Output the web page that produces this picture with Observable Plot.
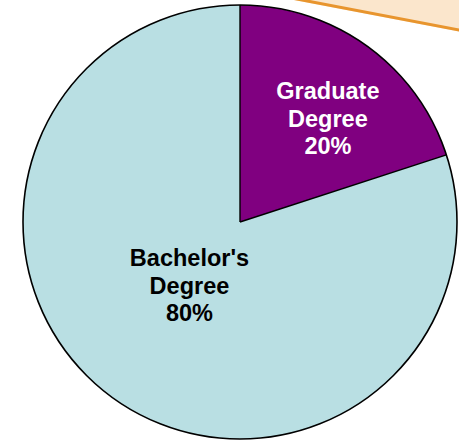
<!DOCTYPE html>
<html>
<head>
<meta charset="utf-8">
<script src="https://cdn.jsdelivr.net/npm/d3@7"></script>
<script src="https://cdn.jsdelivr.net/npm/@observablehq/plot@0.6"></script>
<style>
  html, body { margin: 0; padding: 0; background: #fff; }
  #wrap { position: relative; width: 459px; height: 442px; overflow: hidden; }
  #note { position: absolute; left: 294px; top: -83px; width: 260px; height: 80px;
          background: #fbe6cc; border-bottom: 3px solid #e8952e;
          transform: rotate(10.8deg); transform-origin: 0 100%; }
  #chart { position: absolute; left: 0; top: 0; }
</style>
</head>
<body>
<div id="wrap"><div id="note"></div><div id="chart"></div></div>
<script>
const categories = ["Graduate Degree", "Bachelor's Degree"];
const labelLines = [["Graduate", "Degree", "20%"], ["Bachelor's", "Degree", "80%"]];
const shares = [20, 80];
const colors = ["#800080", "#b9dfe3"];
const textColors = ["#ffffff", "#000000"];
const labelRadius = [0.628, 0.371];
const labelAngleShift = [3.9, 3.35]; // degrees

const pie = d3.pie().sort(null).value(d => d.value);
const arcs = pie(categories.map((c, i) => ({category: c, value: shares[i], i})));

// label positions in data units (unit circle), along slice mid-angle
const labels = arcs.map((a, i) => {
  const mid = (a.startAngle + a.endAngle) / 2 + labelAngleShift[i] * Math.PI / 180;
  return {
    x: labelRadius[i] * Math.sin(mid),
    y: labelRadius[i] * Math.cos(mid),
    text: labelLines[i].join("\n"),
    fill: textColors[i]
  };
});

function pieMark(index, scales) {
  const cx = scales.x(0), cy = scales.y(0);
  const r = scales.x(1) - scales.x(0);
  const g = d3.create("svg:g").attr("transform", `translate(${cx},${cy})`);
  const arcGen = d3.arc().innerRadius(0).outerRadius(r);
  g.selectAll("path").data(arcs).join("path")
    .attr("d", arcGen)
    .attr("fill", d => colors[d.data.i])
    .attr("stroke", "none");
  g.append("circle").attr("r", r).attr("fill", "none").attr("stroke", "#000").attr("stroke-width", 1.6);
  g.selectAll("line.sep").data(arcs).join("line")
    .attr("x1", 0).attr("y1", 0)
    .attr("x2", d => r * Math.sin(d.startAngle))
    .attr("y2", d => -r * Math.cos(d.startAngle))
    .attr("stroke", "#000").attr("stroke-width", 1.4);
  return g.node();
}

const chart = Plot.plot({
  width: 459,
  height: 442,
  margin: 0,
  x: {domain: [-1, 1], range: [23, 457], axis: null},
  y: {domain: [-1, 1], range: [439, 5], axis: null},
  style: {background: "transparent", overflow: "visible"},
  marks: [
    pieMark,
    Plot.text(labels, {
      x: "x", y: "y", text: "text", fill: "fill",
      lineHeight: 27.6 / 23.5,
      fontSize: 23.5, fontWeight: "bold",
      fontFamily: "Liberation Sans, Arial, sans-serif"
    })
  ]
});
document.getElementById("chart").append(chart);
</script>
</body>
</html>
